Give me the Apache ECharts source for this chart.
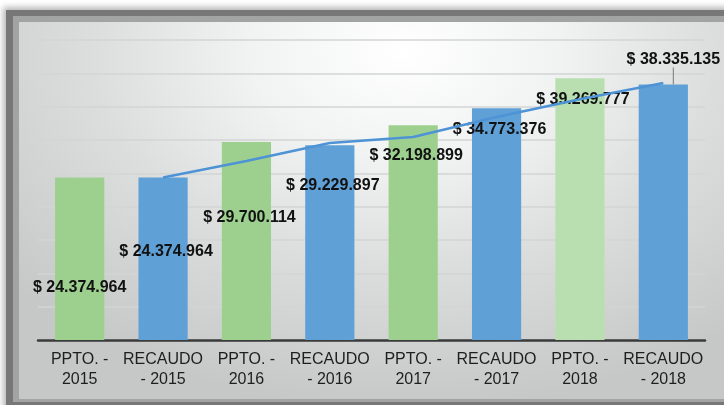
<!DOCTYPE html>
<html>
<head>
<meta charset="utf-8">
<script src="https://cdn.jsdelivr.net/npm/echarts@6/dist/echarts.min.js"></script>
<style>
  html,body{margin:0;padding:0;background:#fff;overflow:hidden}
  #frame{position:absolute;left:6px;top:10px;width:740px;height:400px;background:#777;
    box-shadow:0 0 6px 3px rgba(0,0,0,0.28)}
  #rim{position:absolute;left:13px;top:16px;width:740px;height:386px;background:#a2a4a4}
  #panel{position:absolute;left:19px;top:22px;width:740px;height:377px;
    background:radial-gradient(ellipse 70% 95% at 52% 8%,#ffffff 0%,#f1f2f2 30%,#dcdede 60%,#c6c8c8 100%)}
  #chart{position:absolute;left:0;top:0;width:724px;height:405px}
</style>
</head>
<body>
<div id="frame"></div>
<div id="rim"></div>
<div id="panel"></div>
<div id="chart"></div>
<script>
// categorias y valores (pesos)
var categorias=['PPTO. -\n2015','RECAUDO\n- 2015','PPTO. -\n2016','RECAUDO\n- 2016','PPTO. -\n2017','RECAUDO\n- 2017','PPTO. -\n2018','RECAUDO\n- 2018'];
var valores=[24374964,24374964,29700114,29229897,32198899,34773376,39269777,38335135];
var tipo=['ppto','recaudo','ppto','recaudo','ppto','recaudo','ppto','recaudo'];
// linea de tendencia del recaudo
var tendencia=[null,24374964,26850000,29550000,30450000,33450000,36100000,38550000];

var colores={ppto:'#9dd08f',recaudo:'#5fa0d6'};
// desplazamiento de las etiquetas respecto a la parte superior de cada barra
var despl=[[0,123],[3,87],[3,89],[3,53],[3,43],[3,34],[3,34],[10,-12]];
var fuente='"Liberation Sans",Arial,sans-serif';

function fmt(v){
  return '$ '+String(v).replace(/\B(?=(\d{3})+(?!\d))/g,'.');
}

var datos=valores.map(function(v,i){
  var c=colores[tipo[i]];
  if(i==6) c='#b9dfb1';
  var o={value:v,itemStyle:{color:c}};
  if(i==7) o.labelLine={show:true,lineStyle:{color:'#777',width:1}};
  return o;
});

var chart=echarts.init(document.getElementById('chart'));
chart.setOption({
  backgroundColor:'transparent',
  animation:false,
  grid:{left:38,right:19,top:40,bottom:65},
  xAxis:{
    type:'category',
    data:categorias,
    axisLine:{lineStyle:{color:'#3a3a3a',width:2.5}},
    axisTick:{show:false},
    axisLabel:{
      color:'#1e1e1e',fontSize:16,lineHeight:20,margin:10,interval:0,
      fontFamily:fuente
    }
  },
  yAxis:{
    type:'value',min:0,max:45000000,interval:5000000,
    axisLabel:{show:false},
    axisLine:{show:false},
    axisTick:{show:false},
    splitLine:{lineStyle:{color:'#d3d4d4',width:1.5}}
  },
  series:[
    {
      type:'bar',
      data:datos,
      barWidth:'59%',
      label:{
        show:true,position:'top',distance:5,
        fontSize:16,fontWeight:'bold',color:'#111',
        fontFamily:fuente,
        formatter:function(p){return fmt(p.value);}
      },
      labelLine:{show:false},
      labelLayout:function(p){
        var d=despl[p.dataIndex];
        return {dx:d[0],dy:d[1]};
      }
    },
    {
      type:'line',
      data:tendencia,
      symbol:'none',
      z:5,
      lineStyle:{color:'#4d93d6',width:2.5}
    }
  ]
});
</script>
</body>
</html>
